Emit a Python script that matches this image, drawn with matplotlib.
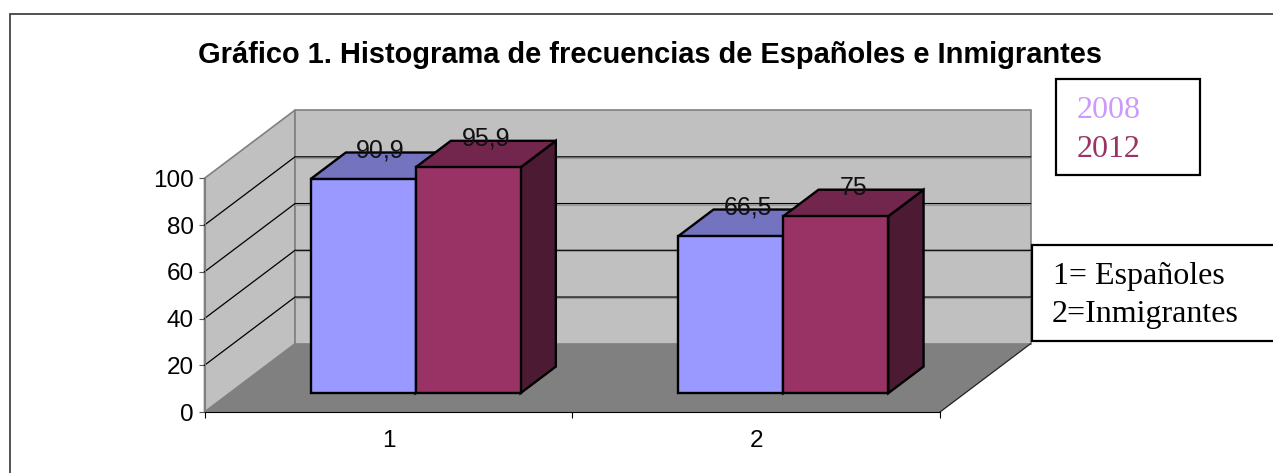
import numpy as np
import matplotlib
matplotlib.use("Agg")
import matplotlib.pyplot as plt
from matplotlib.patches import Polygon, Rectangle

categories = ["1", "2"]
values_2008 = [90.9, 66.5]
values_2012 = [95.9, 75]
labels_2008 = ["90,9", "66,5"]
labels_2012 = ["95,9", "75"]
y_ticks = [0, 20, 40, 60, 80, 100]

W, H = 1273, 473
WALL = "#C0C0C0"
FLOOR = "#808080"
C_2008 = "#9999FF"
C_2012 = "#993366"

# plot area of the front plane, in pixels
LEFT, RIGHT, Y0, Y100 = 204.5, 940.0, 412.0, 178.3
DEPTH_X, DEPTH_Y = 90.5, 68.2  # oblique shift of the back wall, pixels

fig = plt.figure(figsize=(W / 100, H / 100), dpi=100)
ax = fig.add_axes([LEFT / W, 1 - Y0 / H, (RIGHT - LEFT) / W, (Y0 - Y100) / H])
ax.set_xlim(0, len(categories))
ax.set_ylim(0, 100)
ax.patch.set_visible(False)

# pixels to data units
ux = len(categories) / (RIGHT - LEFT)
uy = 100 / (Y0 - Y100)


def shift(x, y, depth):
    # point on a plane pushed back by depth (0 front, 1 back wall)
    return (x + depth * DEPTH_X * ux, y + depth * DEPTH_Y * uy)


def poly(points, **kw):
    p = Polygon(points, closed=True, clip_on=False, **kw)
    ax.add_patch(p)


n = len(categories)
poly([shift(0, 0, 0), shift(0, 0, 1), shift(0, 100, 1), shift(0, 100, 0)],
     facecolor=WALL, edgecolor=FLOOR, linewidth=1.2, zorder=1)
poly([shift(0, 0, 1), shift(n, 0, 1), shift(n, 100, 1), shift(0, 100, 1)],
     facecolor=WALL, edgecolor=FLOOR, linewidth=1.2, zorder=1)
poly([shift(0, 0, 0), shift(n, 0, 0), shift(n, 0, 1), shift(0, 0, 1)],
     facecolor=FLOOR, edgecolor="none", zorder=1)

for t in y_ticks[1:-1]:
    x0, y0 = shift(0, t, 0)
    x1, y1 = shift(0, t, 1)
    x2, y2 = shift(n, t, 1)
    ax.plot([x0, x1, x2], [y0, y1, y2], color="black", lw=0.9, clip_on=False, zorder=2)
    ax.plot([x1, x2], [y1 - 0.5, y2 - 0.5], color="#9A9A9A", lw=0.8, clip_on=False, zorder=2)

# front and right floor edges
fx0, fy0 = shift(n, 0, 0)
fx1, fy1 = shift(n, 0, 1)
ax.plot([fx0, fx1], [fy0, fy1], color="#222222", lw=0.9, clip_on=False, zorder=2)


def draw_bar(x0, width, value, color, label):
    d0, d1 = 0.30, 0.69
    base = -0.7
    dark = np.array(matplotlib.colors.to_rgb(color))
    lw = 1.7
    kw = dict(edgecolor="black", linewidth=lw, joinstyle="miter", zorder=4)
    x1 = x0 + width
    poly([shift(x1, base, d0), shift(x1, base, d1), shift(x1, value, d1), shift(x1, value, d0)],
         facecolor=dark * 0.5, **kw)
    poly([shift(x0, value, d0), shift(x1, value, d0), shift(x1, value, d1), shift(x0, value, d1)],
         facecolor=dark * 0.75, **kw)
    poly([shift(x0, base, d0), shift(x1, base, d0), shift(x1, value, d0), shift(x0, value, d0)],
         facecolor=color, **kw)
    cx, cy = shift(x0 + width / 2, value, (d0 + d1) / 2)
    ax.annotate(label, (cx, cy), xytext=(0, 11), textcoords="offset points", ha="center",
                va="center", fontsize=18, family="Liberation Sans", color="#111111",
                annotation_clip=False, zorder=6)


BAR_W = 105 / 367.75
for i in range(n):
    start = i + 0.2145
    draw_bar(start, BAR_W, values_2008[i], C_2008, labels_2008[i])
    draw_bar(start + BAR_W, BAR_W, values_2012[i], C_2012, labels_2012[i])

for s in ["top", "right"]:
    ax.spines[s].set_visible(False)
ax.spines["left"].set_color(FLOOR)
ax.spines["left"].set_zorder(3)
ax.spines["bottom"].set_color("black")
ax.spines["bottom"].set_zorder(3)

ax.set_yticks(y_ticks)
ax.set_xticks(range(n + 1))
ax.set_xticklabels([])
ax.set_xticks([i + 0.5 for i in range(n)], minor=True)
ax.set_xticklabels(categories, minor=True)
ax.tick_params(axis="x", which="major", length=4.5, width=0.8, color="black")
ax.tick_params(axis="x", which="minor", length=0, pad=13, labelsize=17.5)
ax.tick_params(axis="y", length=4.5, width=0.8, color="#555555", pad=3, labelsize=17.5)
for lab in ax.get_xticklabels(which="minor") + ax.get_yticklabels():
    lab.set_family("Liberation Sans")

# chart frame and pasted text boxes, in figure pixels
def px(x, y):
    return x / W, 1 - y / H


fig.patches.append(Rectangle(px(10, 520), 1400 / W, 506 / H, transform=fig.transFigure,
                             facecolor="none", edgecolor="#333333", linewidth=1.2, zorder=0))

fig.text(*px(650, 55), "Gráfico 1. Histograma de frecuencias de Españoles e Inmigrantes",
         ha="center", va="center", fontsize=20.85, fontweight="bold", family="Liberation Sans")

for x, y, w, h in [(1056, 175, 144, 96), (1032, 340.5, 300, 96)]:
    fig.patches.append(Rectangle(px(x, y), w / W, h / H, transform=fig.transFigure,
                                 facecolor="white", edgecolor="black", linewidth=1.6, zorder=5))

box_text = [(1076.5, 118, "2008", "#CC99FF"), (1076.5, 156.7, "2012", C_2012),
            (1053, 284, "1= Españoles", "black"), (1052, 322, "2=Inmigrantes", "black")]
for x, y, s, c in box_text:
    fig.text(*px(x, y), s, color=c, fontsize=23,
             family="Liberation Serif", ha="left", va="baseline", zorder=7)

fig.savefig("out.png", dpi=100)
